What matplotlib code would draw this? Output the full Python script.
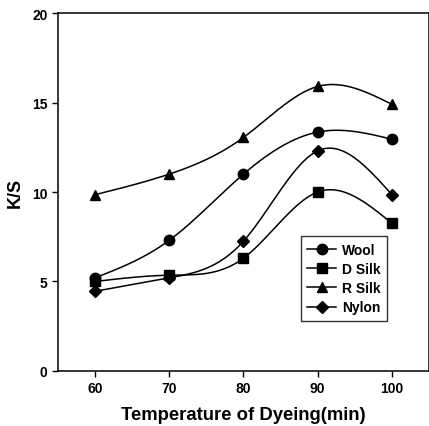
import numpy as np
import matplotlib
matplotlib.use("Agg")
import matplotlib.pyplot as plt

plt.rcParams['font.family'] = ['Liberation Sans', 'DejaVu Sans']
plt.rcParams['font.weight'] = 'bold'
plt.rcParams['axes.labelweight'] = 'bold'

temps = [60, 70, 80, 90, 100]
wool = [5.2, 7.3, 11.0, 13.35, 12.95]
d_silk = [5.0, 5.35, 6.3, 10.0, 8.25]
r_silk = [9.85, 11.0, 13.05, 15.9, 14.9]
nylon = [4.45, 5.2, 7.25, 12.3, 9.85]


def natural_spline(x, y, n=200):
    # natural cubic spline through the points, for the smooth curves
    x = np.asarray(x, float)
    y = np.asarray(y, float)
    k = len(x)
    h = np.diff(x)
    A = np.zeros((k, k))
    b = np.zeros(k)
    A[0, 0] = 1
    A[-1, -1] = 1
    for i in range(1, k - 1):
        A[i, i - 1] = h[i - 1]
        A[i, i] = 2 * (h[i - 1] + h[i])
        A[i, i + 1] = h[i]
        b[i] = 6 * ((y[i + 1] - y[i]) / h[i] - (y[i] - y[i - 1]) / h[i - 1])
    m = np.linalg.solve(A, b)
    xs = np.linspace(x[0], x[-1], n)
    idx = np.clip(np.searchsorted(x, xs) - 1, 0, k - 2)
    x0, x1 = x[idx], x[idx + 1]
    hh = x1 - x0
    t0 = x1 - xs
    t1 = xs - x0
    ys = (m[idx] * t0 ** 3 / (6 * hh) + m[idx + 1] * t1 ** 3 / (6 * hh)
          + (y[idx] / hh - m[idx] * hh / 6) * t0
          + (y[idx + 1] / hh - m[idx + 1] * hh / 6) * t1)
    return xs, ys


fig = plt.figure(figsize=(4.29, 4.27), dpi=100)
ax = fig.add_axes([0.135, 0.129, 0.865, 0.838])

series = [("Wool", wool, "o", 7.5), ("D Silk", d_silk, "s", 7),
          ("R Silk", r_silk, "^", 7.5), ("Nylon", nylon, "D", 6.5)]
for name, vals, mk, ms in series:
    xs, ys = natural_spline(temps, vals)
    ax.plot(xs, ys, color="black", lw=1.1)
    ax.plot(temps, vals, linestyle="none", marker=mk, color="black",
            markersize=ms)
    ax.plot([], [], color="black", lw=1.1, marker=mk, markersize=ms,
            label=name)

ax.set_xlim(55, 105)
ax.set_ylim(0, 20)
ax.set_xticks(temps)
ax.set_yticks([0, 5, 10, 15, 20])
ax.tick_params(labelsize=10, length=4, width=1)
for s in ax.spines.values():
    s.set_linewidth(1.1)

ax.set_xlabel("Temperature of Dyeing(min)", fontsize=13.3, labelpad=8)
ax.set_ylabel("K/S", fontsize=13, labelpad=6)

# legend box placed in axes fraction coordinates
leg = ax.legend(loc="upper left", bbox_to_anchor=(0.655, 0.376),
                fontsize=10, frameon=True, fancybox=False, handlelength=2.1,
                borderpad=0.45, labelspacing=0.38, handletextpad=0.4,
                borderaxespad=0)
leg.get_frame().set_edgecolor("black")
leg.get_frame().set_linewidth(1)

fig.savefig("out.png", dpi=100)
